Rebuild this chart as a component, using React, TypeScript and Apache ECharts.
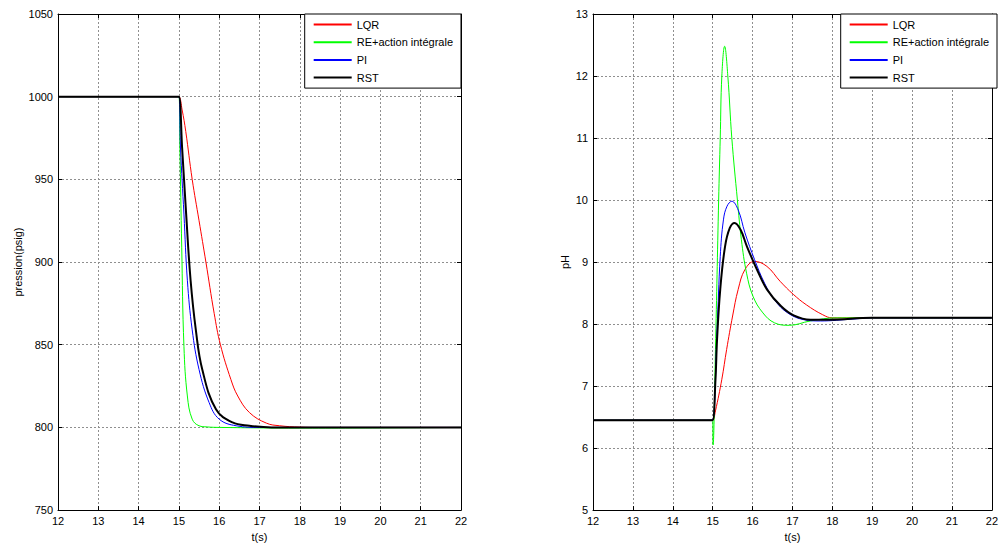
import React, { useEffect, useRef } from "react";
import * as echarts from "echarts";

// ---------- Data ----------
const seriesNames = ["LQR", "RE+action intégrale", "PI", "RST"];
const seriesColors = ["#ff0000", "#00ff00", "#0000ff", "#000000"];
const seriesWidths = [1, 1, 1, 2];

// Left panel : pression (psig) vs t(s)
const lqrPressT = [12, 14.95, 15, 15.08, 15.17, 15.33, 15.5, 15.67, 15.875, 16.03, 16.29, 16.46, 16.75, 17.17, 17.5, 18, 18.5, 22];
const lqrPressV = [1000, 1000, 1000, 992, 979, 950, 925, 900, 869, 850, 829, 819, 809, 802.6, 801, 800.2, 800, 800];
const rePressT = [12, 14.95, 15, 15.025, 15.07, 15.125, 15.21, 15.33, 15.5, 15.7, 16, 18, 22];
const rePressV = [1000, 1000, 1000, 969, 909, 849, 819, 805, 801, 800.3, 800, 799.6, 800];
const piPressT = [12, 14.95, 15, 15.04, 15.125, 15.21, 15.33, 15.5, 15.75, 16, 16.42, 17, 22];
const piPressV = [1000, 1000, 1000, 969, 929, 889, 859, 835, 815, 805, 801, 800, 800];
const rstPressT = [12, 14.95, 15, 15.08, 15.18, 15.29, 15.42, 15.58, 15.92, 16.33, 16.75, 17.3, 22];
const rstPressV = [1000, 1000, 1000, 969, 929, 889, 859, 835, 811, 803, 801, 800, 800];

// Right panel : pH vs t(s)
const lqrPhT = [12, 14.95, 15, 15.07, 15.23, 15.35, 15.5, 15.64, 15.81, 16.05, 16.36, 16.69, 17.02, 17.35, 17.76, 18.0, 18.5, 22];
const lqrPhV = [6.45, 6.45, 6.45, 6.6, 7.11, 7.59, 8.13, 8.56, 8.88, 9.01, 8.93, 8.69, 8.48, 8.31, 8.15, 8.1, 8.1, 8.1];
const rePhT = [12, 14.95, 15, 15.01, 15.07, 15.15, 15.19, 15.23, 15.3, 15.38, 15.48, 15.62, 15.72, 15.85, 16.01, 16.26, 16.55, 16.92, 17.45, 18.1, 18.6, 22];
const rePhV = [6.45, 6.45, 6.45, 6.05, 7.59, 10.0, 11.0, 12.0, 12.48, 12.0, 11.0, 10.0, 9.36, 8.82, 8.45, 8.18, 8.02, 7.98, 8.05, 8.1, 8.1, 8.1];
const piPhT = [12, 14.95, 15, 15.11, 15.19, 15.27, 15.36, 15.48, 15.64, 15.81, 16.05, 16.3, 16.55, 16.88, 17.29, 17.7, 18.5, 19, 22];
const piPhV = [6.45, 6.45, 6.45, 7.91, 9.09, 9.68, 9.9, 9.98, 9.84, 9.47, 9.04, 8.66, 8.39, 8.18, 8.07, 8.05, 8.08, 8.1, 8.1];
const rstPhT = [12, 14.95, 15, 15.07, 15.11, 15.19, 15.31, 15.43, 15.55, 15.7, 15.86, 16.11, 16.36, 16.71, 17.03, 17.45, 17.92, 19, 22];
const rstPhV = [6.45, 6.45, 6.45, 7.1, 7.75, 8.56, 9.25, 9.55, 9.63, 9.52, 9.25, 8.88, 8.56, 8.29, 8.14, 8.07, 8.07, 8.1, 8.1];

const xMin = 12, xMax = 22, xStep = 1;
const pressMin = 750, pressMax = 1050, pressStep = 50;
const phMin = 5, phMax = 13, phStep = 1;

const zip = (t: number[], v: number[]) => t.map((x, i) => [x, v[i]]);

const FONT = "'Liberation Sans', Arial, sans-serif";

export default function App() {
  const ref = useRef<HTMLDivElement>(null);

  useEffect(() => {
    if (!ref.current) return;
    const chart = echarts.init(ref.current, undefined, { renderer: "svg" });

    const grids = [
      { left: 58, top: 14, width: 403, height: 497 },
      { left: 593, top: 14, width: 404, height: 497 },
    ];

    const gridLine = { show: true, lineStyle: { color: "#8f8f8f", type: [2, 2], width: 1 } };
    const label = { color: "#000", fontFamily: FONT, fontSize: 11, formatter: (v: number) => String(v) };

    const xAxes: any[] = [];
    const yAxes: any[] = [];
    [0, 1].forEach((g) => {
      xAxes.push({
        type: "value", gridIndex: g, min: xMin, max: xMax, interval: xStep, position: "bottom",
        name: "t(s)", nameLocation: "middle", nameGap: 20,
        nameTextStyle: { color: "#000", fontFamily: FONT, fontSize: 11 },
        axisLine: { show: true, lineStyle: { color: "#000", width: 1 } },
        axisTick: { show: true, inside: true, length: 4, lineStyle: { color: "#000" } },
        axisLabel: { ...label, margin: 5, showMinLabel: true, showMaxLabel: true },
        splitLine: gridLine,
      });
      xAxes.push({
        type: "value", gridIndex: g, min: xMin, max: xMax, interval: xStep, position: "top",
        axisLine: { show: true, lineStyle: { color: "#000", width: 1 } },
        axisTick: { show: true, inside: true, length: 4, lineStyle: { color: "#000" } },
        axisLabel: { show: false },
        splitLine: { show: false },
      });
      const ymin = g === 0 ? pressMin : phMin;
      const ymax = g === 0 ? pressMax : phMax;
      const ystep = g === 0 ? pressStep : phStep;
      yAxes.push({
        type: "value", gridIndex: g, min: ymin, max: ymax, interval: ystep, position: "left",
        name: g === 0 ? "pression(psig)" : "pH", nameLocation: "middle", nameGap: g === 0 ? 35 : 23,
        nameTextStyle: { color: "#000", fontFamily: FONT, fontSize: 11 },
        axisLine: { show: true, lineStyle: { color: "#000", width: 1 } },
        axisTick: { show: true, inside: true, length: 4, lineStyle: { color: "#000" } },
        axisLabel: { ...label, margin: 5 },
        splitLine: gridLine,
      });
      yAxes.push({
        type: "value", gridIndex: g, min: ymin, max: ymax, interval: ystep, position: "right",
        axisLine: { show: true, lineStyle: { color: "#000", width: 1 } },
        axisTick: { show: true, inside: true, length: 4, lineStyle: { color: "#000" } },
        axisLabel: { show: false },
        splitLine: { show: false },
      });
    });

    const leftData = [zip(lqrPressT, lqrPressV), zip(rePressT, rePressV), zip(piPressT, piPressV), zip(rstPressT, rstPressV)];
    const rightData = [zip(lqrPhT, lqrPhV), zip(rePhT, rePhV), zip(piPhT, piPhV), zip(rstPhT, rstPhV)];

    const series: any[] = [];
    [leftData, rightData].forEach((panel, g) => {
      panel.forEach((data, i) => {
        series.push({
          type: "line",
          name: seriesNames[i],
          xAxisIndex: g * 2,
          yAxisIndex: g * 2,
          data,
          symbol: "none",
          smooth: 0.4,
          clip: true,
          lineStyle: { color: seriesColors[i], width: seriesWidths[i] },
          itemStyle: { color: seriesColors[i] },
          z: 3 + i,
        });
      });
    });

    const legendBase = {
      orient: "vertical",
      top: 14,
      itemWidth: 38,
      itemHeight: 12,
      itemGap: 6.7,
      padding: [5, 8, 5, 8],
      backgroundColor: "#fff",
      borderColor: "#000",
      borderWidth: 1,
      borderRadius: 0,
      itemStyle: { opacity: 0 },
      textStyle: { color: "#000", fontFamily: FONT, fontSize: 11 },
      data: seriesNames,
      selectedMode: false,
      z: 10,
    };

    chart.setOption({
      animation: false,
      backgroundColor: "#fff",
      grid: grids.map((g) => ({ ...g, show: false, containLabel: false })),
      xAxis: xAxes,
      yAxis: yAxes,
      legend: [
        { ...legendBase, right: 1001 - 461 },
        { ...legendBase, right: 1001 - 997 },
      ],
      series,
    });

    return () => chart.dispose();
  }, []);

  return (
    <div
      ref={ref}
      style={{ position: "fixed", left: 0, top: 0, width: 1001, height: 547, background: "#fff" }}
    />
  );
}
